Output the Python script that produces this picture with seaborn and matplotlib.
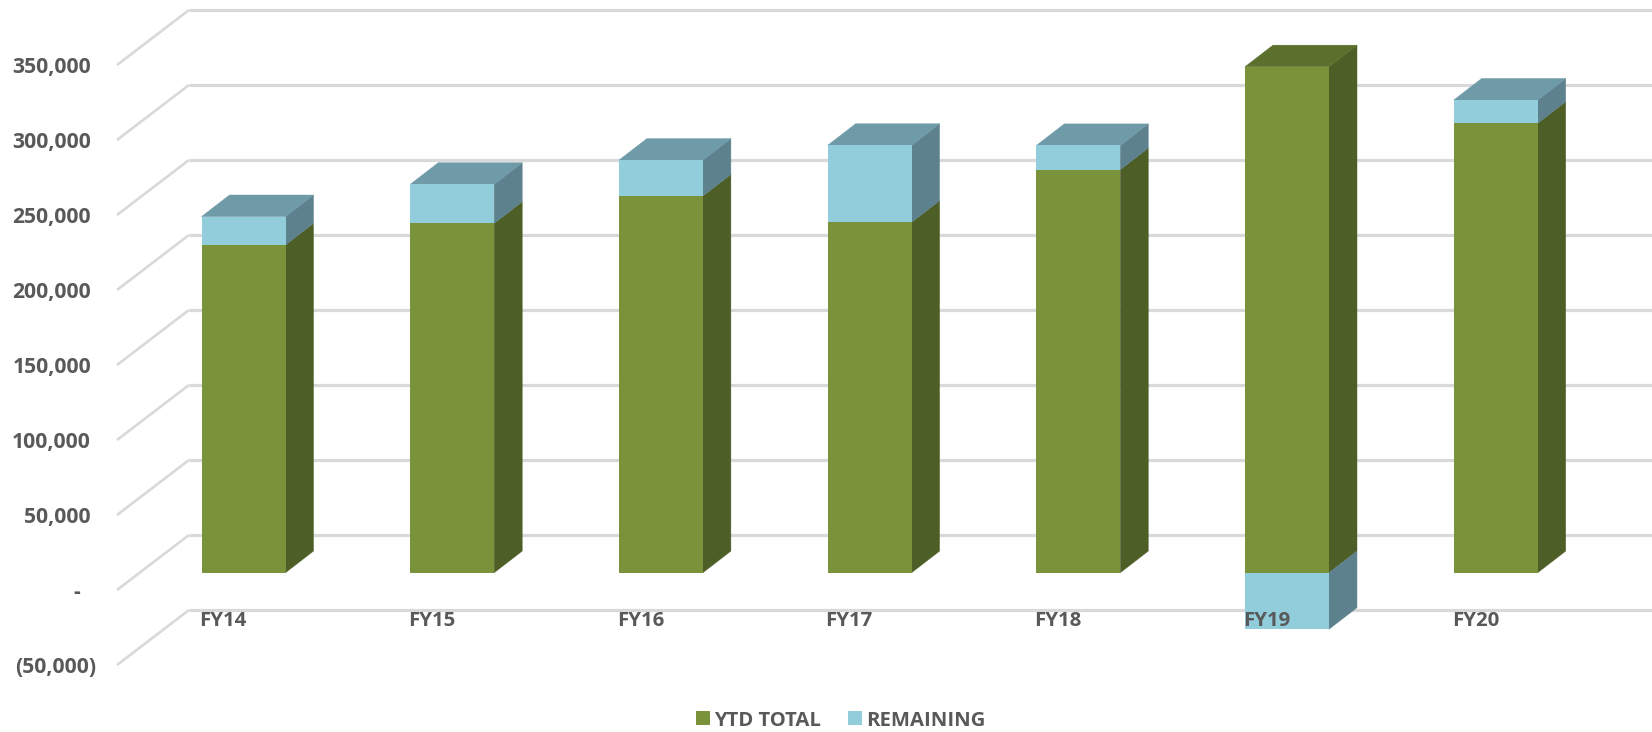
import matplotlib
matplotlib.use("Agg")
import matplotlib.pyplot as plt
import matplotlib.transforms as mtrans
from matplotlib.patches import Polygon
import seaborn as sns

fiscal_years = ["FY14", "FY15", "FY16", "FY17", "FY18", "FY19", "FY20"]
ytd_total = [218500, 232900, 251100, 233600, 268700, 337300, 299600]
remaining = [18900, 26000, 23900, 51300, 16100, -37700, 15500]
y_ticks = [-50000, 0, 50000, 100000, 150000, 200000, 250000, 300000, 350000]
y_tick_labels = ["(50,000)", "-", "50,000", "100,000", "150,000", "200,000",
                 "250,000", "300,000", "350,000"]

GREEN, GREEN_SIDE, GREEN_TOP = "#7A933B", "#4E5E27", "#5C702E"
BLUE, BLUE_SIDE, BLUE_TOP = "#92CDDC", "#5E828D", "#6F9AA8"
GRID = "#D9D9D9"
TEXT = "#595959"
FONT = "Open Sans"

W, H = 1652, 732
sns.set_theme(style="white")
plt.rcParams["font.family"] = [FONT, "DejaVu Sans"]

fig = plt.figure(figsize=(W / 100, H / 100), dpi=100, facecolor="white")
AX_L, AX_R, AX_T, AX_B = 117, 1652, 65, 665
CENTER0, STEP = 243.5, 208.7
ax = fig.add_axes([AX_L / W, 1 - AX_B / H, (AX_R - AX_L) / W, (AX_B - AX_T) / H])

bottoms = [y if r >= 0 else 0 for y, r in zip(ytd_total, remaining)]
bar_w = 84 / STEP
sns.barplot(x=fiscal_years, y=ytd_total, color=GREEN, saturation=1, width=bar_w,
            errorbar=None, label="YTD TOTAL", linewidth=0, ax=ax, zorder=3)
sns.barplot(x=fiscal_years, y=remaining, bottom=bottoms, color=BLUE, saturation=1,
            width=bar_w, errorbar=None, label="REMAINING", linewidth=0, ax=ax, zorder=3)
handles, labels = ax.get_legend_handles_labels()
if ax.get_legend() is not None:
    ax.get_legend().remove()

ax.set_xlim((AX_L - CENTER0) / STEP, (AX_R - CENTER0) / STEP)
ax.set_ylim(-50000, 350000)
sx = 1 / STEP                # category units per pixel
sy = 400000 / (AX_B - AX_T)  # value units per pixel

# Bars stand in a plane a little behind the front edge of the floor
plane = ax.transData + mtrans.Affine2D().translate(0, 17.3)
for p in ax.patches:
    p.set_transform(plane)
    p.set_clip_on(False)

# Back wall and side wall gridlines
wall_dx, wall_dy = 72 * sx, 55 * sy
left, right = ax.get_xlim()
for t in y_ticks:
    ax.plot([left, left + wall_dx], [t, t + wall_dy], color=GRID, lw=1.9,
            clip_on=False, zorder=1, solid_capstyle="butt")
    ax.plot([left + wall_dx, right], [t + wall_dy, t + wall_dy], color=GRID, lw=2.3,
            clip_on=False, zorder=1, solid_capstyle="butt")

# 3D faces of the columns, derived from the values
dep_x, dep_y = 28 * sx, 21.6 * sy
def face(pts, color):
    ax.add_patch(Polygon(pts, closed=True, facecolor=color, edgecolor=color, lw=0.3,
                         transform=plane, clip_on=False, zorder=2.5))

for i, (y, r) in enumerate(zip(ytd_total, remaining)):
    x0, x1 = i - bar_w / 2, i + bar_w / 2
    face([(x1, 0), (x1 + dep_x, dep_y), (x1 + dep_x, y + dep_y), (x1, y)], GREEN_SIDE)
    lo, hi = (y, y + r) if r >= 0 else (r, 0)
    face([(x1, lo), (x1 + dep_x, lo + dep_y), (x1 + dep_x, hi + dep_y), (x1, hi)], BLUE_SIDE)
    top = y + max(r, 0)
    face([(x0, top), (x0 + dep_x, top + dep_y), (x1 + dep_x, top + dep_y), (x1, top)],
         BLUE_TOP if r >= 0 else GREEN_TOP)

# Axes furniture
sns.despine(ax=ax, left=True, bottom=True, right=True, top=True)
ax.set_xlabel("")
ax.set_ylabel("")
ax.set_yticks(y_ticks, y_tick_labels)
ax.set_xticks(range(len(fiscal_years)), fiscal_years)
ax.tick_params(axis="y", length=0, pad=26 * 0.72, labelsize=15.2, labelcolor=TEXT)
ax.tick_params(axis="x", length=0, pad=-54 * 0.72, labelsize=14.7, labelcolor=TEXT)
ax.xaxis.set_zorder(6)
for lab in ax.get_xticklabels():
    lab.set_fontweight("bold")
    lab.set_ha("left")
    lab.set_transform(lab.get_transform() + mtrans.Affine2D().translate(-44, 0))
shift = {"(50,000)": 5, "-": -11}
for lab in ax.get_yticklabels():
    lab.set_fontweight("bold")
    lab.set_transform(lab.get_transform() +
                      mtrans.Affine2D().translate(shift.get(lab.get_text(), 0), 0))

leg = fig.legend(handles, labels, loc="center", bbox_to_anchor=(841 / W, 1 - 720.5 / H),
                 ncol=2, frameon=False, handlelength=0.68, handleheight=0.68,
                 handletextpad=0.2, columnspacing=1.35, labelcolor=TEXT,
                 prop={"family": FONT, "weight": "bold", "size": 14.6})

fig.savefig("out.png", dpi=100, facecolor="white")
